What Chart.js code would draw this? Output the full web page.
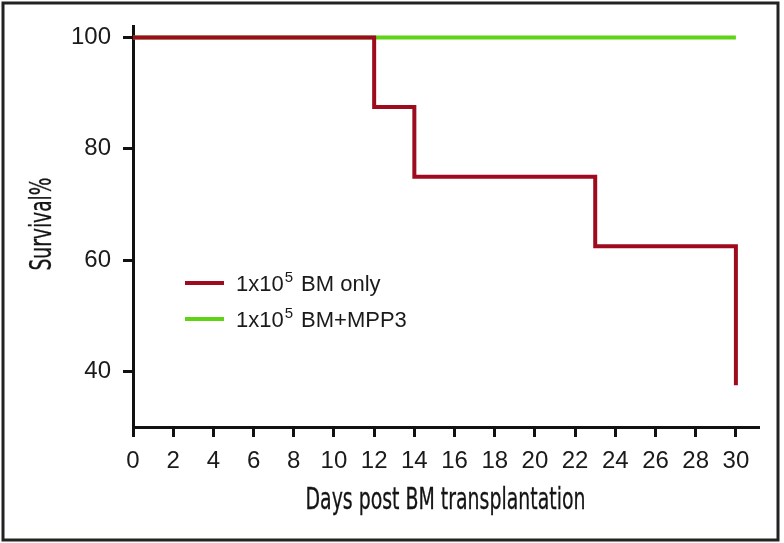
<!DOCTYPE html>
<html>
<head>
<meta charset="utf-8">
<script src="https://cdn.jsdelivr.net/npm/chart.js@4/dist/chart.umd.min.js"></script>
<style>
  body { margin: 0; background: #fff; }
  canvas { display: block; }
</style>
</head>
<body>
<canvas id="myChart" width="784" height="543"></canvas>
<script>
// Datos (Kaplan-Meier)
const bmOnlyDays = [0, 12, 14, 23, 30];
const bmOnlySurvival = [100, 87.5, 75, 62.5, 37.5];
const bmMppDays = [0, 30];
const bmMppSurvival = [100, 100];
const xTicks = [0, 2, 4, 6, 8, 10, 12, 14, 16, 18, 20, 22, 24, 26, 28, 30];
const yTicks = [40, 60, 80, 100];
const seriesNames = ['BM only', 'BM+MPP3'];
const xTitle = 'Days post BM transplantation';
const yTitle = 'Survival%';

const RED = '#9e0b1f';
const GREEN = '#5fd315';
const INK = '#111';
const SANS = '"Liberation Sans", Arial, sans-serif';
const NARROW = '"DejaVu Sans Condensed", "Liberation Sans", sans-serif';

function toPoints(xs, ys) {
  return xs.map((x, i) => ({ x: x, y: ys[i] }));
}

// texto condensado: se ajusta al ancho medido en la figura
function narrowText(ctx, text, x, y, width, angle) {
  ctx.save();
  ctx.font = '30px ' + NARROW;
  const k = width / ctx.measureText(text).width;
  ctx.translate(x, y);
  ctx.rotate(angle);
  ctx.scale(k, 1);
  ctx.textAlign = 'center';
  ctx.textBaseline = 'alphabetic';
  ctx.fillStyle = '#141414';
  ctx.strokeStyle = '#141414';
  ctx.lineWidth = 0.3;
  ctx.fillText(text, 0, 0);
  ctx.strokeText(text, 0, 0);
  ctx.restore();
}

// Marco exterior, títulos de ejes y leyenda con superíndice
const extras = {
  id: 'extras',
  afterDraw(chart) {
    const ctx = chart.ctx;
    const area = chart.chartArea;
    ctx.save();
    ctx.strokeStyle = '#222';
    ctx.lineWidth = 3;
    ctx.strokeRect(3, 3, 775, 537);

    narrowText(ctx, xTitle, (area.left + area.right) / 2, 509, 280, 0);
    narrowText(ctx, yTitle, 51, 224, 93, -Math.PI / 2);

    const colors = [RED, GREEN];
    const rows = [283, 319];
    seriesNames.forEach((name, i) => {
      const y = rows[i];
      ctx.strokeStyle = colors[i];
      ctx.lineWidth = 4;
      ctx.beginPath();
      ctx.moveTo(185, y);
      ctx.lineTo(224, y);
      ctx.stroke();

      ctx.fillStyle = '#1a1a1a';
      ctx.textBaseline = 'alphabetic';
      ctx.font = '22px ' + SANS;
      let x = 236;
      ctx.fillText('1x10', x, y + 8);
      x += ctx.measureText('1x10').width + 1;
      ctx.font = '15px ' + SANS;
      ctx.fillText('5', x, y - 1);
      x += ctx.measureText('5').width + 8;
      ctx.font = '22px ' + SANS;
      ctx.fillText(name, x, y + 8);
    });
    ctx.restore();
  }
};

const ctx = document.getElementById('myChart').getContext('2d');
const myChart = new Chart(ctx, {
  type: 'scatter',
  data: {
    datasets: [{
      label: seriesNames[0],
      data: toPoints(bmOnlyDays, bmOnlySurvival),
      showLine: true,
      stepped: true,
      borderColor: RED,
      borderWidth: 4,
      pointRadius: 0,
      clip: false
    }, {
      label: seriesNames[1],
      data: toPoints(bmMppDays, bmMppSurvival),
      showLine: true,
      stepped: true,
      borderColor: GREEN,
      borderWidth: 4,
      pointRadius: 0,
      clip: false
    }]
  },
  options: {
    responsive: false,
    animation: false,
    layout: { padding: { left: 0, top: 25, right: 26, bottom: 0 } },
    plugins: {
      legend: { display: false },
      tooltip: { enabled: false }
    },
    scales: {
      x: {
        type: 'linear',
        min: 0,
        max: 31.1,
        afterBuildTicks: s => { s.ticks = xTicks.map(v => ({ value: v })); },
        afterFit: s => { s.height = 116; },
        grid: { drawOnChartArea: false, drawTicks: true, tickLength: 10, color: INK, lineWidth: 3 },
        border: { display: true, color: INK, width: 3 },
        ticks: {
          color: '#1a1a1a',
          padding: 10,
          maxRotation: 0,
          autoSkip: false,
          font: { family: SANS, size: 24 }
        }
      },
      y: {
        type: 'linear',
        min: 30,
        max: 102,
        afterBuildTicks: s => { s.ticks = yTicks.map(v => ({ value: v })); },
        afterFit: s => { s.width = 133; },
        grid: { drawOnChartArea: false, drawTicks: true, tickLength: 10, color: INK, lineWidth: 3 },
        border: { display: true, color: INK, width: 3 },
        ticks: {
          color: '#1a1a1a',
          padding: 12,
          font: { family: SANS, size: 24 }
        }
      }
    }
  },
  plugins: [extras]
});
</script>
</body>
</html>
